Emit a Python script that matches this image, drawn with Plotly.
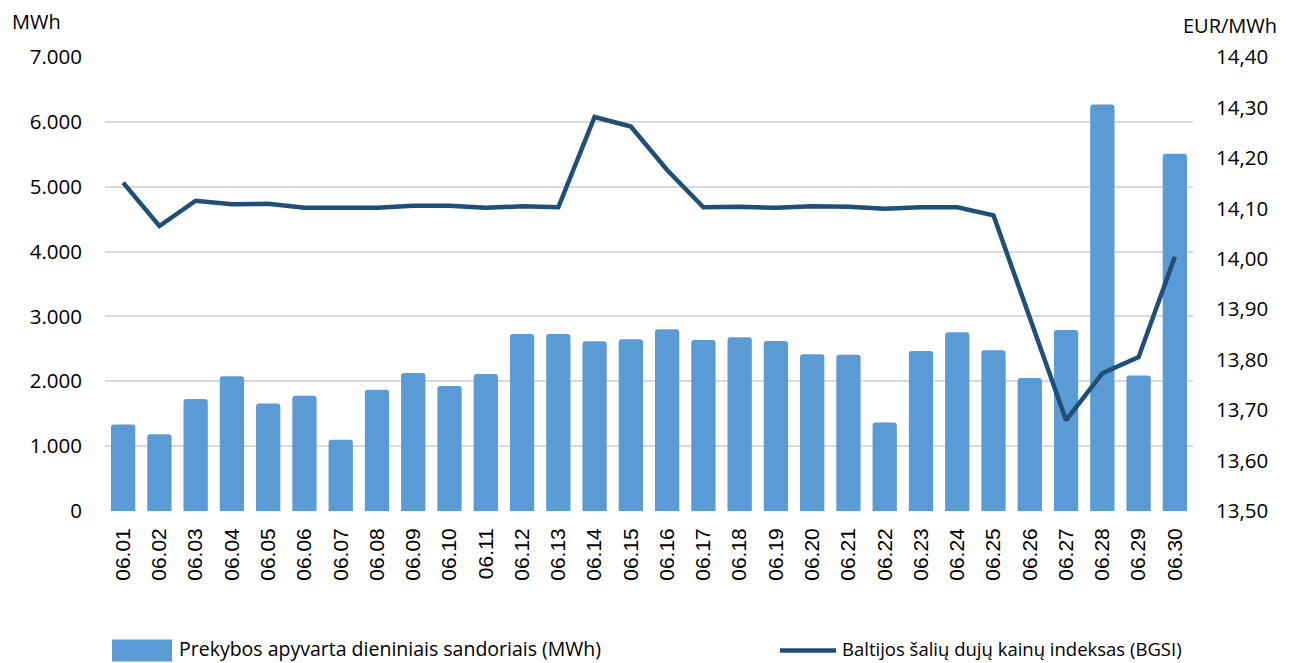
import plotly.graph_objects as go

dates = ["06.01", "06.02", "06.03", "06.04", "06.05", "06.06", "06.07", "06.08", "06.09", "06.10",
         "06.11", "06.12", "06.13", "06.14", "06.15", "06.16", "06.17", "06.18", "06.19", "06.20",
         "06.21", "06.22", "06.23", "06.24", "06.25", "06.26", "06.27", "06.28", "06.29", "06.30"]

turnover_mwh = [1334, 1185, 1725, 2076, 1659, 1776, 1097, 1869, 2129, 1926,
                2111, 2729, 2729, 2616, 2647, 2801, 2636, 2678, 2621, 2415,
                2409, 1365, 2466, 2755, 2477, 2049, 2791, 6266, 2091, 5509]

bgsi_eur = [14.151, 14.065, 14.115, 14.108, 14.109, 14.101, 14.101, 14.101, 14.105, 14.105,
            14.101, 14.104, 14.102, 14.281, 14.262, 14.176, 14.102, 14.103, 14.101, 14.104,
            14.103, 14.099, 14.102, 14.102, 14.086, 13.884, 13.680, 13.773, 13.805, 14.004]

bar_name = "Prekybos apyvarta dieniniais sandoriais (MWh)"
line_name = "Baltijos šalių dujų kainų indeksas (BGSI)"

BAR_COLOR = "#5B9BD5"
LINE_COLOR = "#1F4E79"
FONT = "Open Sans"

fig = go.Figure()
fig.add_trace(go.Bar(
    x=dates, y=turnover_mwh, name=bar_name,
    marker=dict(color=BAR_COLOR, cornerradius=3, line=dict(width=0)),
    showlegend=False,
))
fig.add_trace(go.Scatter(
    x=dates, y=bgsi_eur, name=line_name, yaxis="y2", mode="lines",
    line=dict(color=LINE_COLOR, width=4.5),
    showlegend=False,
))

LEG_Y = -(648.5 - 510.7) / 453.4

fig.update_layout(
    width=1294, height=663,
    margin=dict(l=105, r=101, t=57, b=152),
    paper_bgcolor="white", plot_bgcolor="white",
    separators=",.",
    bargap=0.33,
    font=dict(family=FONT, size=20, color="#000000"),
    xaxis=dict(
        type="category", range=[-0.5, 29.5],
        tickangle=-90, showgrid=False, showline=False, ticks="",
        tickfont=dict(family="Liberation Sans", size=21, color="#000000"),
        ticklabelstandoff=12,
    ),
    yaxis=dict(
        range=[0, 7000], dtick=1000, tickformat=",d",
        showgrid=True, gridcolor="#D9D9D9", gridwidth=1.5,
        zeroline=False, showline=False, ticks="",
        tickfont=dict(family=FONT, size=20.5, color="#000000"),
        ticklabelstandoff=22,
    ),
    yaxis2=dict(
        overlaying="y", side="right",
        range=[13.5, 14.4], dtick=0.1, tickformat=".2f",
        showgrid=False, zeroline=False, showline=False, ticks="",
        tickfont=dict(family=FONT, size=20.5, color="#000000"),
        ticklabelstandoff=22,
    ),
    annotations=[
        dict(text="MWh", xref="paper", yref="paper", x=-105/1088 + 10/1088, y=1 + 35/453.4,
             xanchor="left", yanchor="middle", showarrow=False,
             font=dict(family=FONT, size=20, color="#000000")),
        dict(text="EUR/MWh", xref="paper", yref="paper", x=1 + 86/1088, y=1 + 31/453.4,
             xanchor="right", yanchor="middle", showarrow=False,
             font=dict(family=FONT, size=20, color="#000000")),
        dict(text=bar_name, xref="paper", yref="paper", x=(177-105)/1088, y=LEG_Y,
             xanchor="left", yanchor="middle", showarrow=False,
             font=dict(family=FONT, size=19.5, color="#000000")),
        dict(text=line_name, xref="paper", yref="paper", x=(840-105)/1088, y=LEG_Y,
             xanchor="left", yanchor="middle", showarrow=False,
             font=dict(family=FONT, size=18.5, color="#000000")),
    ],
    shapes=[
        dict(type="rect", xref="paper", yref="paper",
             x0=(112-105)/1088, x1=(172-105)/1088,
             y0=-(661-510.7)/453.4, y1=-(639-510.7)/453.4,
             fillcolor=BAR_COLOR, line=dict(width=0)),
        dict(type="line", xref="paper", yref="paper",
             x0=(780-105)/1088, x1=(836-105)/1088,
             y0=-(650-510.7)/453.4, y1=-(650-510.7)/453.4,
             line=dict(color=LINE_COLOR, width=4.5)),
    ],
)

fig.write_html("out.html", config={"displayModeBar": False},
               post_script="document.body.style.margin='0';")
